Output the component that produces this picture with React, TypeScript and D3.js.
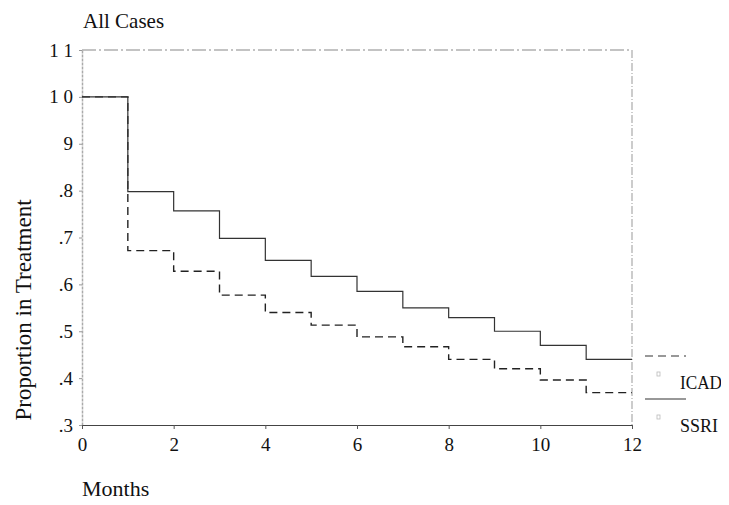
import { useEffect, useRef } from 'react'
import * as d3 from 'd3'

const months = [0, 1, 2, 3, 4, 5, 6, 7, 8, 9, 10, 11, 12]
const ssri = [1.0, 0.798, 0.757, 0.698, 0.651, 0.617, 0.585, 0.55, 0.529, 0.5, 0.47, 0.44, 0.44]
const icad = [1.0, 0.672, 0.628, 0.577, 0.54, 0.513, 0.488, 0.467, 0.44, 0.42, 0.396, 0.369, 0.369]
const xTicks = [0, 2, 4, 6, 8, 10, 12]
const yTicks = [0.3, 0.4, 0.5, 0.6, 0.7, 0.8, 0.9, 1.0, 1.1]
const yTickLabels = ['.3', '.4', '.5', '.6', '.7', '.8', '9', '1 0', '1 1']

export default function App() {
  const svgRef = useRef<SVGSVGElement>(null)

  useEffect(() => {
    const width = 729
    const height = 505
    const margin = { top: 50, right: 97, bottom: 80, left: 82 }
    const font = '"Liberation Serif", "Times New Roman", serif'

    const svg = d3.select(svgRef.current)
      .attr('width', width)
      .attr('height', height)
      .style('display', 'block')
    svg.selectAll('*').remove()

    svg.append('rect').attr('width', width).attr('height', height).attr('fill', '#fff')

    const x = d3.scaleLinear().domain([0, 12]).range([margin.left, width - margin.right])
    const y = d3.scaleLinear().domain([0.3, 1.1]).range([height - margin.bottom, margin.top])

    const g = svg.append('g')

    // frame
    g.append('line')
      .attr('x1', x(0)).attr('x2', x(12)).attr('y1', y(1.1)).attr('y2', y(1.1))
      .attr('stroke', '#888').attr('stroke-width', 1.2).attr('stroke-dasharray', '14 3 2 3')
    g.append('line')
      .attr('x1', x(12)).attr('x2', x(12)).attr('y1', y(1.1)).attr('y2', y(0.3))
      .attr('stroke', '#999').attr('stroke-width', 1).attr('stroke-dasharray', '8 2 1 2')

    // y axis
    const yAxis = g.append('g')
      .attr('transform', `translate(${x(0)},0)`)
      .call(d3.axisLeft(y).tickValues(yTicks).tickSize(3).tickSizeOuter(0).tickFormat((d, i) => yTickLabels[i]))
    yAxis.select('.domain').attr('stroke', '#aaa').attr('stroke-width', 1.5).attr('stroke-dasharray', '3 1')
    yAxis.selectAll('.tick line').attr('stroke', '#999')
    yAxis.selectAll('.tick text')
      .attr('font-family', font).attr('font-size', 19).attr('fill', '#111').attr('x', -9)

    // x axis
    const xAxis = g.append('g')
      .attr('transform', `translate(0,${y(0.3)})`)
      .call(d3.axisBottom(x).tickValues(xTicks).tickSize(4).tickSizeOuter(0).tickFormat(d3.format('d')))
    xAxis.select('.domain').attr('stroke', '#444').attr('stroke-width', 1.2)
    xAxis.selectAll('.tick line').attr('stroke', '#555')
    xAxis.selectAll('.tick text')
      .attr('font-family', font).attr('font-size', 19).attr('fill', '#111').attr('y', 13)

    const line = d3.line<number>()
      .x((d, i) => x(months[i]))
      .y(d => y(d))
      .curve(d3.curveStepAfter)

    g.append('path').datum(icad)
      .attr('d', line).attr('fill', 'none')
      .attr('stroke', '#222').attr('stroke-width', 1.4).attr('stroke-dasharray', '8 5')
    g.append('path').datum(ssri)
      .attr('d', line).attr('fill', 'none')
      .attr('stroke', '#333').attr('stroke-width', 1.2)

    // legend
    const lx = x(12) + 13
    const legend = [
      { name: 'ICAD', dash: '8 5', y: 356, tl: 42 },
      { name: 'SSRI', dash: null, y: 399, tl: 38 },
    ]
    legend.forEach(l => {
      g.append('line')
        .attr('x1', lx).attr('x2', lx + 41).attr('y1', l.y).attr('y2', l.y)
        .attr('stroke', '#333').attr('stroke-width', 1.2)
        .attr('stroke-dasharray', l.dash)
      g.append('rect')
        .attr('x', lx + 12).attr('y', l.y + 16).attr('width', 3).attr('height', 4)
        .attr('fill', 'none').attr('stroke', '#bbb').attr('stroke-width', 0.8)
      g.append('text')
        .attr('x', lx + 35).attr('y', l.y + 33)
        .attr('font-family', font).attr('font-size', 19).attr('fill', '#111')
        .attr('textLength', l.tl).attr('lengthAdjust', 'spacingAndGlyphs')
        .text(l.name)
    })

    // titles
    svg.append('text')
      .attr('x', 83).attr('y', 28)
      .attr('font-family', font).attr('font-size', 21).attr('fill', '#111')
      .text('All Cases')
    svg.append('text')
      .attr('transform', `translate(31,310) rotate(-90)`)
      .attr('text-anchor', 'middle')
      .attr('font-family', font).attr('font-size', 23).attr('fill', '#111')
      .text('Proportion in Treatment')
    svg.append('text')
      .attr('x', 82).attr('y', 496)
      .attr('font-family', font).attr('font-size', 22).attr('fill', '#111')
      .text('Months')
  }, [])

  return (
    <div style={{ margin: -8 }}>
      <svg ref={svgRef}></svg>
    </div>
  )
}
